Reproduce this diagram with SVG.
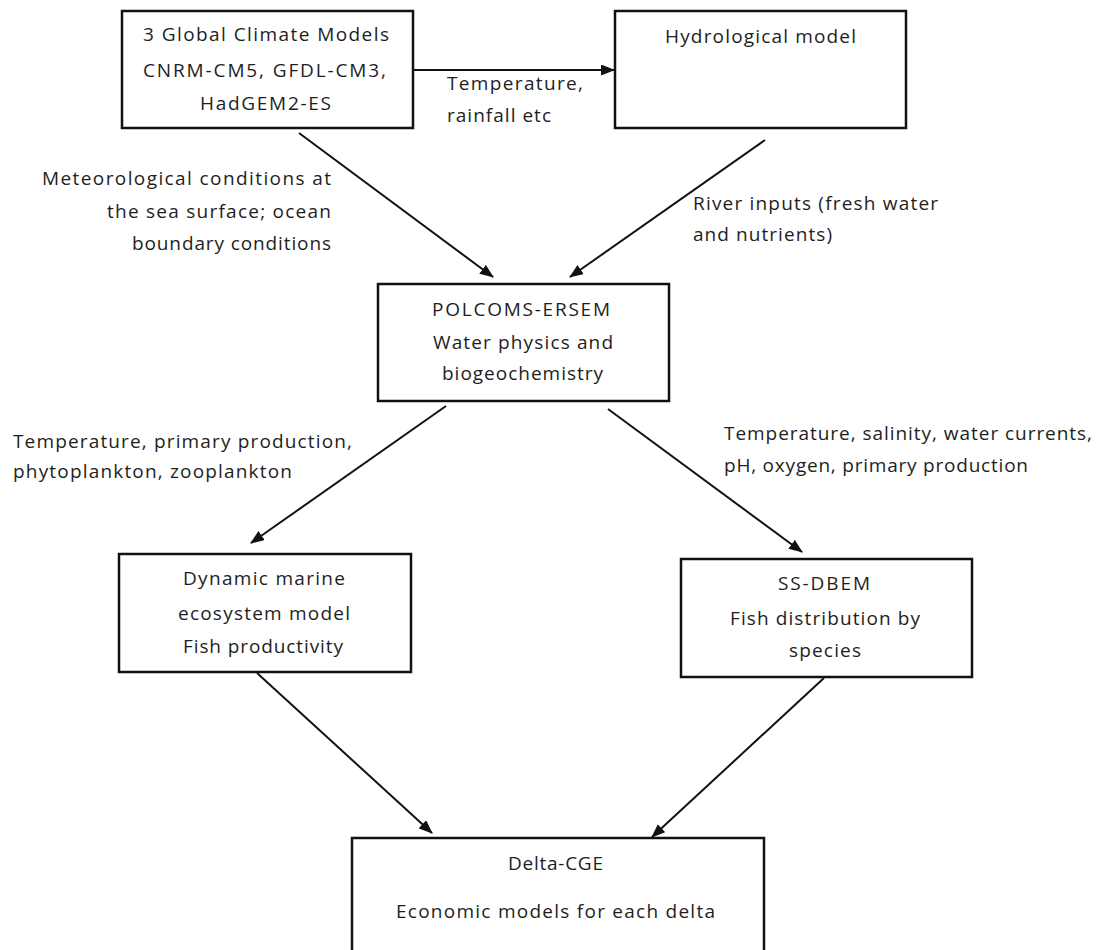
<svg xmlns="http://www.w3.org/2000/svg" width="1109" height="950" viewBox="0 0 1109 950">
<style>
.box{fill:#fff;stroke:#111;stroke-width:2.5}
.t{font-family:"Open Sans","Liberation Sans",Arial,sans-serif;font-size:19px;fill:#1e1e1e}
.c{stroke:#111;stroke-width:2;fill:none;marker-end:url(#ah)}
</style>
<defs>
<marker id="ah" viewBox="0 0 14 11" refX="13" refY="5.5" markerWidth="14" markerHeight="11" markerUnits="userSpaceOnUse" orient="auto">
<path d="M0,0 L14,5.5 L0,11 Z" fill="#111"/>
</marker>
</defs>
<rect width="1109" height="950" fill="#fff"/>

<g id="gcm">
<rect class="box" x="122" y="11" width="291" height="117"/>
<text class="t" x="143" y="41" textLength="246" lengthAdjust="spacing">3 Global Climate Models</text>
<text class="t" x="143" y="77" textLength="243" lengthAdjust="spacing">CNRM-CM5, GFDL-CM3,</text>
<text class="t" x="200" y="110" textLength="131" lengthAdjust="spacing">HadGEM2-ES</text>
</g>

<g id="hydro">
<rect class="box" x="615" y="11" width="291" height="117"/>
<text class="t" x="665" y="43" textLength="191" lengthAdjust="spacing">Hydrological model</text>
</g>

<g id="polcoms">
<rect class="box" x="378" y="284" width="291" height="117"/>
<text class="t" x="432" y="316" textLength="178" lengthAdjust="spacing">POLCOMS-ERSEM</text>
<text class="t" x="433" y="349" textLength="180" lengthAdjust="spacing">Water physics and</text>
<text class="t" x="442" y="380" textLength="161" lengthAdjust="spacing">biogeochemistry</text>
</g>

<g id="dynamic">
<rect class="box" x="119" y="554" width="292" height="118"/>
<text class="t" x="183" y="585" textLength="162" lengthAdjust="spacing">Dynamic marine</text>
<text class="t" x="178" y="620" textLength="172" lengthAdjust="spacing">ecosystem model</text>
<text class="t" x="183" y="653" textLength="160" lengthAdjust="spacing">Fish productivity</text>
</g>

<g id="ssdbem">
<rect class="box" x="681" y="559" width="291" height="118"/>
<text class="t" x="778" y="590" textLength="92" lengthAdjust="spacing">SS-DBEM</text>
<text class="t" x="730" y="625" textLength="190" lengthAdjust="spacing">Fish distribution by</text>
<text class="t" x="789" y="657" textLength="72" lengthAdjust="spacing">species</text>
</g>

<g id="delta">
<rect class="box" x="352" y="838" width="412" height="130"/>
<text class="t" x="508" y="870" textLength="95" lengthAdjust="spacing">Delta-CGE</text>
<text class="t" x="396" y="918" textLength="319" lengthAdjust="spacing">Economic models for each delta</text>
</g>

<g id="connectors">
<line class="c" x1="413" y1="70" x2="614" y2="70"/>
<line class="c" x1="299" y1="133" x2="493" y2="277"/>
<line class="c" x1="765" y1="140" x2="570" y2="277"/>
<line class="c" x1="446" y1="406" x2="251" y2="543"/>
<line class="c" x1="608" y1="409" x2="802" y2="552"/>
<line class="c" x1="257" y1="673" x2="432" y2="833"/>
<line class="c" x1="824" y1="678" x2="652" y2="837"/>
</g>

<g id="labels">
<text class="t" x="447" y="90" textLength="136" lengthAdjust="spacing">Temperature,</text>
<text class="t" x="447" y="122" textLength="104" lengthAdjust="spacing">rainfall etc</text>
<text class="t" x="42" y="185" textLength="289" lengthAdjust="spacing">Meteorological conditions at</text>
<text class="t" x="107" y="218" textLength="224" lengthAdjust="spacing">the sea surface; ocean</text>
<text class="t" x="132" y="250" textLength="199" lengthAdjust="spacing">boundary conditions</text>
<text class="t" x="693" y="210" textLength="245" lengthAdjust="spacing">River inputs (fresh water</text>
<text class="t" x="693" y="241" textLength="139" lengthAdjust="spacing">and nutrients)</text>
<text class="t" x="13" y="448" textLength="339" lengthAdjust="spacing">Temperature, primary production,</text>
<text class="t" x="13" y="478" textLength="279" lengthAdjust="spacing">phytoplankton, zooplankton</text>
<text class="t" x="724" y="440" textLength="368" lengthAdjust="spacing">Temperature, salinity, water currents,</text>
<text class="t" x="724" y="472" textLength="304" lengthAdjust="spacing">pH, oxygen, primary production</text>
</g>
</svg>
